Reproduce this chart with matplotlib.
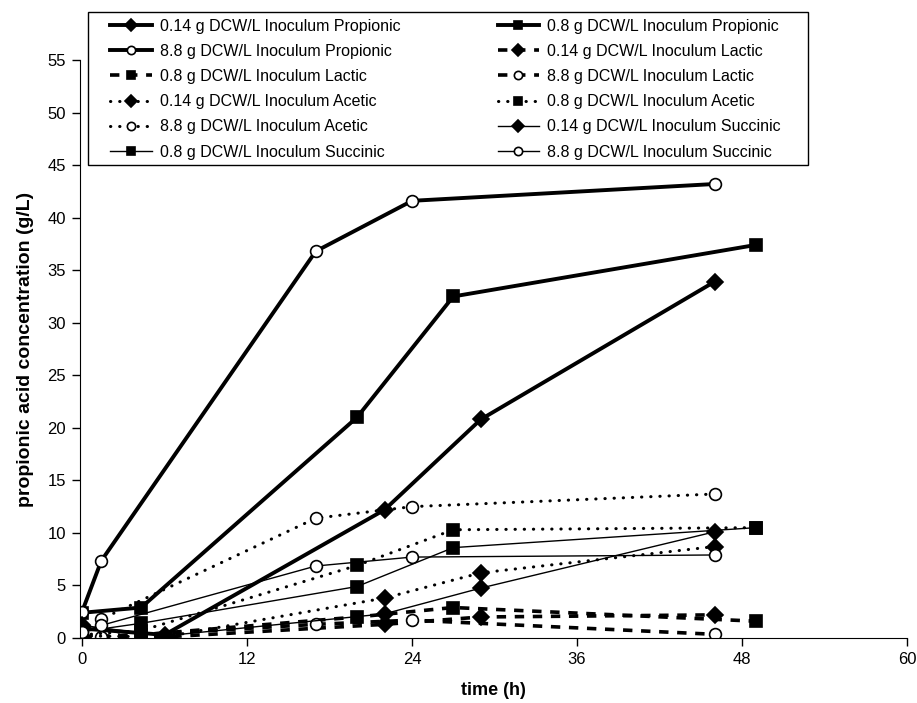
import matplotlib
matplotlib.use('Agg')
import matplotlib.pyplot as plt
from matplotlib.patches import Rectangle

plt.rcParams['font.family'] = ['Liberation Sans', 'DejaVu Sans']

# sampling times (h) for each inoculum size
t_014 = [0, 6, 22, 29, 46]
t_08 = [0, 4.3, 20, 27, 49]
t_88 = [0, 1.4, 17, 24, 46]

# concentrations (g/L)
prop_014 = [0.9, 0.3, 12.2, 20.8, 33.9]
prop_08 = [2.4, 2.9, 21.0, 32.5, 37.4]
prop_88 = [2.5, 7.35, 36.8, 41.6, 43.2]
lac_014 = [0.1, 0.1, 1.3, 2.0, 2.2]
lac_08 = [0.1, 0.3, 2.0, 2.9, 1.6]
lac_88 = [0.1, 0.1, 1.3, 1.7, 0.35]
ace_014 = [0.2, 0.1, 3.8, 6.2, 8.7]
ace_08 = [0.3, 0.7, 6.9, 10.3, 10.5]
ace_88 = [0.6, 1.8, 11.4, 12.5, 13.7]
suc_014 = [1.2, 0.2, 2.3, 4.75, 10.1]
suc_08 = [0.6, 1.4, 4.9, 8.6, 10.5]
suc_88 = [0.6, 1.2, 6.85, 7.7, 7.9]

inocula = ['0.14', '0.8', '8.8']
times = {'0.14': t_014, '0.8': t_08, '8.8': t_88}
acids = ['Propionic', 'Lactic', 'Acetic', 'Succinic']
values = {
    'Propionic': [prop_014, prop_08, prop_88],
    'Lactic': [lac_014, lac_08, lac_88],
    'Acetic': [ace_014, ace_08, ace_88],
    'Succinic': [suc_014, suc_08, suc_88],
}

markers = {'0.14': ('D', 8.5, 'black'), '0.8': ('s', 8, 'black'), '8.8': ('o', 8.5, 'white')}
line_styles = {
    'Propionic': dict(linestyle='-', linewidth=2.8),
    'Lactic': dict(linestyle=(0, (2.6, 2.4)), linewidth=2.6),
    'Acetic': dict(linestyle=(0, (0.1, 2.9)), linewidth=2.2, dash_capstyle='round'),
    'Succinic': dict(linestyle='-', linewidth=1.0),
}

W, H = 917, 703
fig = plt.figure(figsize=(W / 100, H / 100), dpi=100)
ax = fig.add_axes([80 / W, 1 - 638 / H, 827 / W, 578 / H])

handles = []
labels = []
for acid in acids:
    for i, inoc in enumerate(inocula):
        m, ms, fc = markers[inoc]
        h, = ax.plot(times[inoc], values[acid][i], color='black', marker=m, markersize=ms,
                     markerfacecolor=fc, markeredgecolor='black', markeredgewidth=1.2,
                     **line_styles[acid])
        handles.append(h)
        labels.append(f'{inoc} g DCW/L Inoculum {acid}')

ax.set_xlim(-0.15, 60)
ax.set_ylim(0, 55)
ax.set_xticks(range(0, 61, 12))
ax.set_yticks(range(0, 56, 5))
ax.spines['top'].set_visible(False)
ax.spines['right'].set_visible(False)
ax.tick_params(direction='out', length=6, width=1, labelsize=12, pad=4)
ax.set_xlabel('time (h)', fontsize=13, fontweight='bold', labelpad=11)
ax.set_ylabel('propionic acid concentration (g/L)', fontsize=14, fontweight='bold', labelpad=10)

# legend frame drawn separately
fig.patches.append(Rectangle((88 / W, 1 - 165 / H), 720 / W, 153 / H, transform=fig.transFigure,
                             facecolor='white', edgecolor='black', linewidth=1.0, zorder=5))

# legend fills row by row in the original
order = list(range(0, 12, 2)) + list(range(1, 12, 2))
leg = fig.legend([handles[k] for k in order], [labels[k] for k in order], ncol=2,
                 loc='upper left', bbox_to_anchor=(110 / W, 1 - 18.5 / H),
                 fontsize=11.5, frameon=False, borderaxespad=0, borderpad=0,
                 handlelength=2.6, markerscale=0.7, labelspacing=0.64,
                 columnspacing=6.1, handletextpad=0.5)
leg.set_zorder(6)

plt.savefig('out.png', dpi=100)
plt.close()
